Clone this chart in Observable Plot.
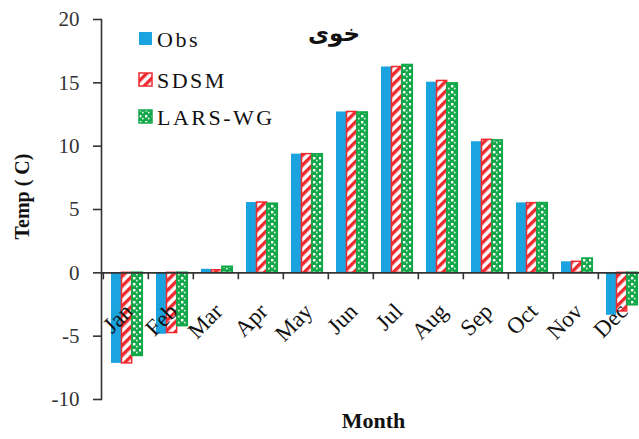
<!DOCTYPE html>
<html>
<head>
<meta charset="utf-8">
<script src="https://cdn.jsdelivr.net/npm/d3@7"></script>
<script src="https://cdn.jsdelivr.net/npm/@observablehq/plot@0.6"></script>
<style>
  body { margin: 0; background: #fff; }
  #wrap { position: relative; width: 639px; height: 439px; overflow: hidden; }
  #overlay { position: absolute; left: 0; top: 0; }
</style>
</head>
<body>
<svg width="0" height="0" style="position:absolute">
  <defs>
    <pattern id="stripes" patternUnits="userSpaceOnUse" width="7" height="7" patternTransform="rotate(45)">
      <rect width="7" height="7" fill="#fff"/>
      <rect x="0" y="0" width="3.4" height="7" fill="#ee2a2f"/>
    </pattern>
    <pattern id="checks" patternUnits="userSpaceOnUse" width="6" height="6">
      <rect width="6" height="6" fill="#12a84a"/>
      <rect x="1" y="1" width="2.4" height="2.4" fill="#fff"/>
      <rect x="4" y="3.8" width="1.6" height="1.6" fill="#e8f7ec"/>
    </pattern>
  </defs>
</svg>
<div id="wrap"></div>
<script>
const months = ["Jan","Feb","Mar","Apr","May","Jun","Jul","Aug","Sep","Oct","Nov","Dec"];
const obs  = [-7.15, -4.85, 0.28, 5.55, 9.37, 12.7, 16.25, 15.05, 10.35, 5.52, 0.87, -3.35];
const sdsm = [-7.15, -4.75, 0.2, 5.55, 9.37, 12.7, 16.25, 15.15, 10.5, 5.5, 0.87, -3.05];
const lars = [-6.55, -4.2, 0.47, 5.45, 9.35, 12.65, 16.4, 14.95, 10.45, 5.5, 1.12, -2.55];
const yTicks = [-10, -5, 0, 5, 10, 15, 20];
const seriesNames = ["Obs", "SDSM", "LARS-WG"];

const data = months.map((m, i) => ({month: m, obs: obs[i], sdsm: sdsm[i], lars: lars[i]}));

const width = 639, height = 439, mL = 101, mR = -6;
const bw = (width - mL - mR) / months.length;
const barW = 10.5;
const serif = "Liberation Serif";

const chart = Plot.plot({
  width, height,
  marginLeft: mL, marginRight: mR, marginTop: 19, marginBottom: 40,
  style: {fontFamily: serif, fontSize: "21px", color: "#222", background: "transparent", overflow: "visible"},
  x: {domain: months, padding: 0, axis: null},
  y: {domain: [-10, 20], axis: null},
  marks: [
    Plot.barY(data, {x: "month", y: "obs", fill: "#1ba3e0", insetLeft: 8, insetRight: bw - 8 - barW}),
    Plot.barY(data, {x: "month", y: "sdsm", fill: "url(#stripes)", stroke: "#ee2a2f", strokeWidth: 1.5, insetLeft: 18.5, insetRight: bw - 18.5 - barW}),
    Plot.barY(data, {x: "month", y: "lars", fill: "url(#checks)", stroke: "#12a84a", strokeWidth: 1.8, insetLeft: 29, insetRight: bw - 29 - barW}),
    Plot.ruleY([0], {stroke: "#333", strokeWidth: 1.6}),
    Plot.ruleX(months, {x: d => d, y1: 0, y2: -0.55, dx: -bw / 2, stroke: "#333", strokeWidth: 1.6}),
    Plot.frame({anchor: "left", stroke: "#333", strokeWidth: 1.6}),
    Plot.axisY({ticks: yTicks, tickFormat: d => String(d), tickSize: 8, tickPadding: 14, label: null, stroke: "#333", strokeWidth: 1.6, fill: "#333", fontFamily: serif, fontSize: 21, style: {letterSpacing: "1.5px"}}),
    Plot.text(months, {x: d => d, y: 0, text: d => d, rotate: -45, textAnchor: "end", lineAnchor: "bottom", dx: 8, dy: 40, fill: "#111", fontFamily: serif, fontSize: 23, style: {letterSpacing: "2px"}}),
    Plot.text(["Temp ( C)"], {frameAnchor: "left", textAnchor: "middle", rotate: -90, dx: -79, dy: -13, fontWeight: "bold", fontFamily: serif, fontSize: 20, fill: "#111"}),
    Plot.text(["Month"], {frameAnchor: "bottom", lineAnchor: "bottom", dy: 28, fontWeight: "bold", fontFamily: serif, fontSize: 22, fill: "#111", style: {letterSpacing: "2px"}})
  ]
});
document.getElementById("wrap").appendChild(chart);

// Legend + title overlay
const ov = d3.select("#wrap").append("svg").attr("id", "overlay").attr("width", width).attr("height", height);
const swatchFills = ["#1ba3e0", "url(#stripes)", "url(#checks)"];
const swatchStroke = [null, "#ee2a2f", "#12a84a"];
const rowY = [32, 73, 110];
seriesNames.forEach((name, i) => {
  ov.append("rect").attr("x", 139).attr("y", rowY[i]).attr("width", 13).attr("height", 13)
    .attr("fill", swatchFills[i]).attr("stroke", swatchStroke[i]).attr("stroke-width", swatchStroke[i] ? 1.5 : 0);
  ov.append("text").attr("x", 157).attr("y", rowY[i] + 15).text(name)
    .style("font-family", serif).attr("font-size", 22).attr("letter-spacing", "2.5px").attr("fill", "#111");
});
ov.append("text").attr("x", 334).attr("y", 41).attr("text-anchor", "middle").text("خوی")
  .style("font-family", "DejaVu Sans").attr("font-weight", "bold").attr("font-size", 23).attr("fill", "#111");
</script>
</body>
</html>
